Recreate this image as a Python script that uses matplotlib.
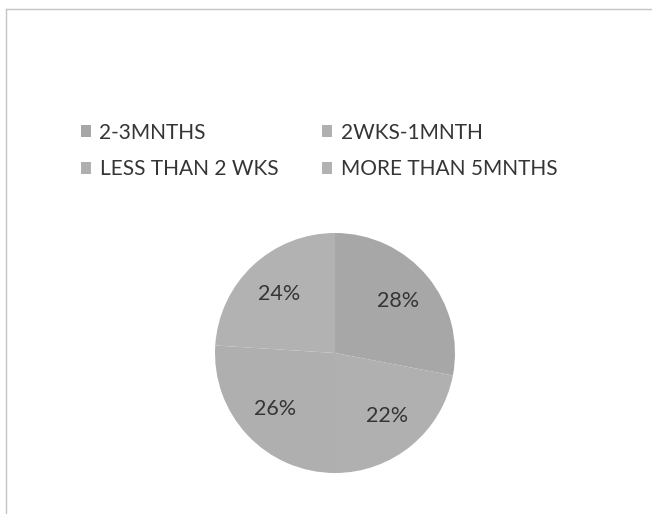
import matplotlib.pyplot as plt
from matplotlib.lines import Line2D

# Time-to-diagnosis shares
categories = ["2-3MNTHS", "2WKS-1MNTH", "LESS THAN 2 WKS", "MORE THAN 5MNTHS"]
shares = [28, 22, 26, 24]
slice_colors = ["#a7a7a7", "#b0b0b0", "#afafaf", "#b2b2b2"]

W, H = 652, 514
fig = plt.figure(figsize=(W / 100, H / 100), dpi=100)
fig.patch.set_facecolor("white")

# thin grey frame on top / left
frame = "#c4c4c4"
fig.add_artist(Line2D([6 / W, 1], [1 - 9 / H, 1 - 9 / H], color=frame, lw=1.0))
fig.add_artist(Line2D([6 / W, 6 / W], [0, 1 - 9 / H], color=frame, lw=1.0))

# pie centred at (335, 353) px, radius 120 px
cx, cy, r = 335, 353, 120
ax = fig.add_axes([(cx - r) / W, (H - cy - r) / H, 2 * r / W, 2 * r / H])
wedges, _, autotexts = ax.pie(
    shares, colors=slice_colors, startangle=90, counterclock=False,
    autopct=lambda p: f"{p:.0f}%", pctdistance=0.68,
    wedgeprops=dict(linewidth=0),
    textprops=dict(fontsize=15.5, color="#353535", family="Lato"))
ax.set_xlim(-1, 1)
ax.set_ylim(-1, 1)
ax.set_aspect("equal")
ax.axis("off")

# two-row legend, row-major order
order = [0, 2, 1, 3]
fig.legend([wedges[i] for i in order], [categories[i] for i in order],
           ncol=2, loc="upper left", bbox_to_anchor=(62 / W, 1 - 104 / H),
           frameon=False, handlelength=0.5, handleheight=0.5,
           handletextpad=0.4, columnspacing=2.1, labelspacing=0.78,
           prop=dict(family="Lato", size=15), labelcolor="#353535")

fig.savefig("out.png", dpi=100)
